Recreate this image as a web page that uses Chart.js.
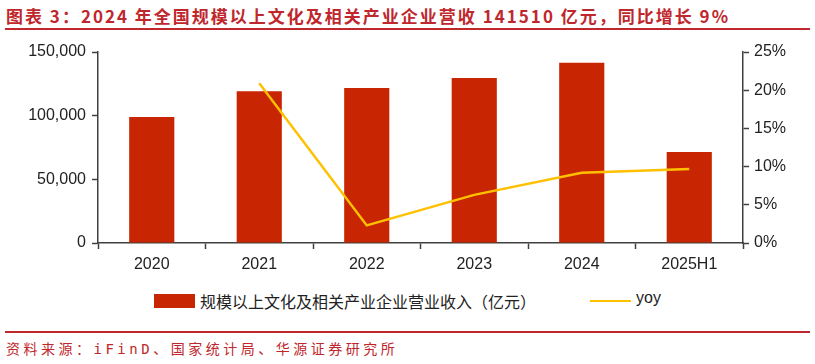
<html>
<head>
<meta charset="utf-8">
<title>文化产业营收</title>
<script src="https://cdn.jsdelivr.net/npm/chart.js"></script>
<style>
    body { margin: 0; width: 815px; height: 364px; background: #fff; position: relative; overflow: hidden; }
    #title { position: absolute; left: 6px; top: 3px; font: bold 17px "Noto Sans CJK SC"; color: #c0272d; letter-spacing: 2px; white-space: nowrap; }
    .rule { position: absolute; left: 5px; width: 805px; height: 2px; background: #c0272d; }
    #box { position: absolute; left: 0; top: 31px; width: 815px; height: 255px; }
    #legend { position: absolute; top: 290px; left: 0; width: 815px; height: 22px; font: 16px "Noto Sans CJK SC"; color: #222; }
    #source { position: absolute; left: 6px; top: 338px; font: 14px "DejaVu Sans Mono", "Noto Sans CJK SC"; color: #c0272d; letter-spacing: 3.5px; white-space: nowrap; }
</style>
</head>
<body>
<div id="title">图表 3：2024 年全国规模以上文化及相关产业企业营收 141510 亿元，同比增长 9%</div>
<div class="rule" style="top: 28px"></div>

<div id="box"><canvas id="chart"></canvas></div>

<div id="legend">
    <span style="position:absolute; left:154px; top:4px; width:41px; height:14px; background:#c82502"></span>
    <span style="position:absolute; left:200px; top:-1px">规模以上文化及相关产业企业营业收入（亿元）</span>
    <span style="position:absolute; left:590px; top:10px; width:41px; height:2px; background:#ffc000"></span>
    <span style="position:absolute; left:636px; top:-1px; font-family:'Liberation Sans'">yoy</span>
</div>

<div class="rule" style="top: 331px"></div>
<div id="source">资料来源：iFinD、国家统计局、华源证券研究所</div>

<script>
    const years = ['2020', '2021', '2022', '2023', '2024', '2025H1']
    const revenue = [98900, 119100, 121800, 129500, 141510, 71500]
    const yoy = [null, 20.9, 2.3, 6.3, 9.2, 9.7]

    const axisColor = '#404040'
    const tickFont = { family: 'Liberation Sans', size: 16 }

    new Chart(document.getElementById('chart'), {
        data: {
            labels: years,
            datasets: [{
                type: 'line',
                label: 'yoy',
                data: yoy,
                yAxisID: 'y1',
                borderColor: '#ffc000',
                borderWidth: 2.5,
                pointRadius: 0,
                tension: 0,
                order: 0
            }, {
                type: 'bar',
                label: '规模以上文化及相关产业企业营业收入（亿元）',
                data: revenue,
                yAxisID: 'y',
                backgroundColor: '#c82502',
                categoryPercentage: 1,
                barPercentage: 0.42,
                order: 1
            }]
        },
        options: {
            responsive: true,
            maintainAspectRatio: false,
            animation: false,
            layout: { padding: { top: 21, left: 0, right: 0, bottom: 0 } },
            plugins: { legend: { display: false }, tooltip: { enabled: false } },
            scales: {
                x: {
                    offset: true,
                    grid: { offset: true, drawOnChartArea: false, color: axisColor, tickLength: 6, tickWidth: 1.5 },
                    border: { color: axisColor, width: 1.5 },
                    ticks: { color: '#222', font: tickFont, padding: 6 },
                    afterFit(s) { s.height = 43 }
                },
                y: {
                    position: 'left',
                    min: 0, max: 150000,
                    grid: { drawOnChartArea: false, color: axisColor, tickLength: 6, tickWidth: 1.5 },
                    border: { color: axisColor, width: 1.5 },
                    ticks: {
                        stepSize: 50000, color: '#222', font: tickFont, padding: 6,
                        callback: v => v.toLocaleString('en-US')
                    },
                    afterFit(s) { s.width = 98 }
                },
                y1: {
                    position: 'right',
                    min: 0, max: 25,
                    grid: { drawOnChartArea: false, color: axisColor, tickLength: 6, tickWidth: 1.5 },
                    border: { color: axisColor, width: 1.5 },
                    ticks: { stepSize: 5, color: '#222', font: tickFont, padding: 5, callback: v => v + '%' },
                    afterFit(s) { s.width = 72 }
                }
            }
        }
    })
</script>
</body>
</html>
